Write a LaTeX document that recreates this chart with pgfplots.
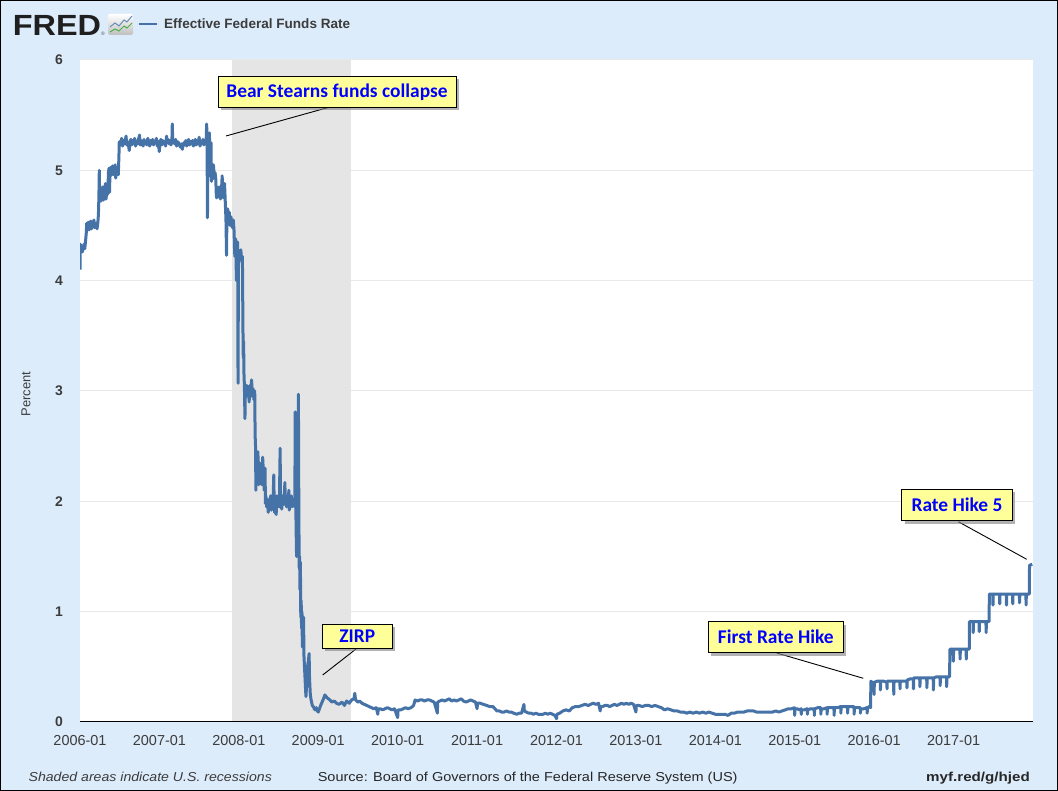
\documentclass[border=0pt]{standalone}
\usepackage{pgfplots}
\usepackage{pgfplotstable}
\pgfplotsset{compat=1.18}
\usepackage{fontspec}
\setmainfont{Liberation Sans}
\newfontfamily\calibri{Carlito}
\usetikzlibrary{shadows}
\definecolor{bgblue}{RGB}{221,236,251}
\definecolor{fredblue}{RGB}{69,114,167}
\definecolor{gridgray}{RGB}{232,232,232}
\definecolor{shadegray}{RGB}{229,229,229}
\definecolor{txtgray}{RGB}{60,60,60}
\definecolor{boxyellow}{RGB}{255,255,153}
\definecolor{annblue}{RGB}{0,0,255}
\definecolor{tickgray}{RGB}{200,208,216}

\pgfplotstableread{
x y
2006.000 4.10
2006.004 4.33
2006.012 4.28
2006.020 4.31
2006.030 4.26
2006.040 4.30
2006.050 4.33
2006.060 4.29
2006.070 4.36
2006.080 4.44
2006.084 4.52
2006.095 4.48
2006.105 4.53
2006.115 4.46
2006.125 4.50
2006.135 4.54
2006.145 4.47
2006.155 4.51
2006.165 4.49
2006.175 4.55
2006.185 4.48
2006.195 4.50
2006.205 4.52
2006.215 4.47
2006.225 4.53
2006.232 4.60
2006.238 4.76
2006.243 5.00
2006.248 4.74
2006.256 4.80
2006.264 4.72
2006.272 4.78
2006.280 4.75
2006.288 4.85
2006.296 4.73
2006.304 4.79
2006.312 4.76
2006.320 4.88
2006.328 4.74
2006.336 4.80
2006.344 4.78
2006.352 4.83
2006.358 4.98
2006.366 5.02
2006.372 4.80
2006.378 5.01
2006.386 4.95
2006.394 5.03
2006.402 4.97
2006.410 5.04
2006.418 4.96
2006.426 5.02
2006.434 4.99
2006.442 5.05
2006.450 4.93
2006.458 5.01
2006.466 4.98
2006.474 5.03
2006.482 4.96
2006.490 5.12
2006.494 5.25
2006.500 5.26
2006.512 5.23
2006.524 5.29
2006.536 5.22
2006.548 5.27
2006.560 5.24
2006.572 5.28
2006.580 5.31
2006.588 5.23
2006.600 5.26
2006.612 5.22
2006.620 5.18
2006.628 5.25
2006.640 5.28
2006.652 5.23
2006.664 5.27
2006.676 5.24
2006.688 5.29
2006.700 5.22
2006.712 5.26
2006.724 5.24
2006.736 5.28
2006.750 5.32
2006.758 5.23
2006.770 5.27
2006.782 5.25
2006.794 5.22
2006.806 5.28
2006.818 5.24
2006.830 5.26
2006.842 5.23
2006.854 5.29
2006.866 5.25
2006.878 5.22
2006.890 5.27
2006.902 5.24
2006.914 5.28
2006.926 5.23
2006.938 5.26
2006.950 5.25
2006.962 5.29
2006.974 5.22
2006.986 5.26
2006.998 5.17
2007.006 5.25
2007.018 5.28
2007.030 5.23
2007.042 5.27
2007.054 5.24
2007.066 5.26
2007.078 5.22
2007.090 5.31
2007.098 5.25
2007.110 5.28
2007.122 5.24
2007.134 5.27
2007.146 5.23
2007.158 5.29
2007.162 5.42
2007.168 5.25
2007.180 5.27
2007.192 5.24
2007.204 5.28
2007.216 5.22
2007.228 5.26
2007.240 5.25
2007.252 5.23
2007.264 5.21
2007.276 5.24
2007.288 5.19
2007.296 5.22
2007.308 5.25
2007.320 5.23
2007.332 5.27
2007.344 5.22
2007.356 5.25
2007.368 5.28
2007.380 5.23
2007.392 5.26
2007.404 5.24
2007.416 5.27
2007.428 5.22
2007.440 5.25
2007.452 5.28
2007.464 5.23
2007.476 5.26
2007.488 5.24
2007.500 5.30
2007.512 5.22
2007.524 5.26
2007.536 5.24
2007.548 5.28
2007.560 5.23
2007.572 5.27
2007.584 5.25
2007.590 5.30
2007.595 5.42
2007.600 5.26
2007.605 4.57
2007.610 5.10
2007.615 4.95
2007.620 5.20
2007.625 5.00
2007.630 5.34
2007.635 4.95
2007.640 5.02
2007.650 5.25
2007.655 4.90
2007.660 5.00
2007.670 4.92
2007.680 5.05
2007.690 4.95
2007.700 4.98
2007.710 4.92
2007.715 4.80
2007.720 4.75
2007.730 4.82
2007.740 4.76
2007.750 4.85
2007.760 4.78
2007.770 4.74
2007.780 4.80
2007.790 4.95
2007.800 4.78
2007.810 4.75
2007.820 4.88
2007.830 4.70
2007.838 4.55
2007.845 4.23
2007.850 4.60
2007.860 4.65
2007.870 4.55
2007.880 4.62
2007.890 4.50
2007.900 4.58
2007.910 4.52
2007.920 4.48
2007.930 4.55
2007.940 4.45
2007.945 4.30
2007.950 4.22
2007.960 4.38
2007.970 4.00
2007.975 4.30
2007.985 4.35
2007.990 3.07
2007.995 4.15
2008.005 4.25
2008.015 4.20
2008.025 4.28
2008.035 4.18
2008.045 4.22
2008.052 3.55
2008.056 3.30
2008.060 3.45
2008.065 3.15
2008.070 3.05
2008.077 2.75
2008.082 3.00
2008.090 2.95
2008.100 3.05
2008.110 2.98
2008.120 3.02
2008.130 2.90
2008.140 3.05
2008.150 2.95
2008.160 3.10
2008.170 2.98
2008.180 3.02
2008.190 2.92
2008.200 3.00
2008.205 2.60
2008.210 2.50
2008.215 2.10
2008.220 2.40
2008.230 2.20
2008.240 2.45
2008.250 2.15
2008.260 2.35
2008.270 2.25
2008.280 2.30
2008.290 2.15
2008.300 2.40
2008.310 2.25
2008.320 2.10
2008.330 2.30
2008.335 1.98
2008.340 2.05
2008.350 1.95
2008.360 2.02
2008.370 1.90
2008.380 2.00
2008.390 1.95
2008.400 2.05
2008.410 1.92
2008.420 2.00
2008.430 1.98
2008.440 2.24
2008.445 1.98
2008.450 1.90
2008.460 2.02
2008.470 1.88
2008.480 2.05
2008.490 1.95
2008.500 2.00
2008.510 1.95
2008.520 2.48
2008.525 1.98
2008.530 2.02
2008.540 1.93
2008.550 2.05
2008.560 1.97
2008.570 2.02
2008.580 2.17
2008.585 1.97
2008.590 2.03
2008.600 1.95
2008.610 2.05
2008.620 1.98
2008.630 2.10
2008.635 1.92
2008.640 2.00
2008.650 1.96
2008.660 2.05
2008.670 1.95
2008.680 2.02
2008.690 1.98
2008.700 2.00
2008.705 1.95
2008.710 2.81
2008.715 2.50
2008.720 1.80
2008.727 1.50
2008.735 2.00
2008.745 1.60
2008.750 2.97
2008.755 2.00
2008.760 1.40
2008.765 1.50
2008.770 1.20
2008.775 1.45
2008.780 0.95
2008.785 1.10
2008.790 0.85
2008.795 1.00
2008.800 0.68
2008.805 0.90
2008.810 0.75
2008.815 0.95
2008.820 0.60
2008.830 0.45
2008.840 0.30
2008.845 0.23
2008.855 0.35
2008.865 0.50
2008.875 0.55
2008.885 0.62
2008.890 0.40
2008.900 0.25
2008.910 0.20
2008.925 0.15
2008.937 0.14
2008.950 0.12
2008.960 0.11
2008.975 0.13
2008.990 0.10
2009.000 0.09
2009.030 0.15
2009.060 0.20
2009.084 0.245
2009.110 0.22
2009.147 0.20
2009.170 0.18
2009.200 0.19
2009.230 0.17
2009.260 0.16
2009.300 0.18
2009.330 0.15
2009.357 0.19
2009.390 0.17
2009.420 0.20
2009.450 0.21
2009.460 0.26
2009.470 0.20
2009.500 0.18
2009.520 0.19
2009.550 0.17
2009.580 0.16
2009.610 0.15
2009.640 0.14
2009.670 0.13
2009.700 0.12
2009.730 0.13
2009.750 0.07
2009.755 0.12
2009.780 0.12
2009.810 0.11
2009.840 0.12
2009.870 0.13
2009.900 0.12
2009.930 0.11
2009.960 0.12
2010.000 0.04
2010.005 0.11
2010.040 0.11
2010.070 0.12
2010.100 0.13
2010.130 0.12
2010.170 0.13
2010.200 0.15
2010.220 0.20
2010.250 0.19
2010.280 0.20
2010.310 0.20
2010.340 0.19
2010.370 0.20
2010.400 0.20
2010.430 0.19
2010.460 0.18
2010.500 0.08
2010.503 0.18
2010.530 0.19
2010.560 0.20
2010.590 0.19
2010.620 0.20
2010.650 0.21
2010.680 0.19
2010.710 0.20
2010.740 0.19
2010.770 0.20
2010.800 0.21
2010.830 0.19
2010.860 0.18
2010.890 0.19
2010.920 0.20
2010.950 0.19
2010.980 0.18
2011.000 0.12
2011.005 0.17
2011.040 0.17
2011.080 0.16
2011.120 0.15
2011.160 0.14
2011.200 0.14
2011.250 0.10
2011.280 0.10
2011.310 0.09
2011.340 0.09
2011.370 0.10
2011.400 0.09
2011.430 0.09
2011.460 0.08
2011.500 0.07
2011.530 0.08
2011.560 0.08
2011.590 0.16
2011.595 0.10
2011.620 0.09
2011.650 0.08
2011.680 0.08
2011.710 0.07
2011.740 0.08
2011.770 0.07
2011.800 0.07
2011.830 0.07
2011.860 0.08
2011.890 0.07
2011.920 0.08
2011.950 0.07
2011.980 0.06
2012.000 0.03
2012.005 0.07
2012.040 0.08
2012.080 0.10
2012.120 0.11
2012.160 0.10
2012.200 0.13
2012.240 0.14
2012.280 0.14
2012.320 0.15
2012.360 0.16
2012.400 0.15
2012.430 0.16
2012.460 0.17
2012.500 0.16
2012.530 0.17
2012.550 0.10
2012.555 0.14
2012.580 0.14
2012.610 0.15
2012.640 0.15
2012.670 0.14
2012.700 0.15
2012.730 0.16
2012.760 0.15
2012.790 0.16
2012.820 0.17
2012.850 0.16
2012.880 0.17
2012.910 0.16
2012.940 0.17
2012.970 0.16
2013.000 0.09
2013.005 0.15
2013.040 0.15
2013.080 0.14
2013.120 0.15
2013.160 0.15
2013.200 0.14
2013.240 0.15
2013.280 0.14
2013.320 0.13
2013.360 0.11
2013.400 0.12
2013.440 0.11
2013.480 0.10
2013.520 0.10
2013.560 0.09
2013.600 0.09
2013.640 0.08
2013.680 0.09
2013.720 0.08
2013.760 0.09
2013.800 0.08
2013.840 0.09
2013.880 0.08
2013.920 0.09
2013.960 0.08
2014.000 0.07
2014.040 0.07
2014.080 0.07
2014.120 0.07
2014.160 0.06
2014.200 0.08
2014.240 0.08
2014.280 0.09
2014.320 0.09
2014.360 0.09
2014.400 0.10
2014.440 0.10
2014.480 0.10
2014.520 0.09
2014.560 0.09
2014.600 0.09
2014.640 0.09
2014.680 0.09
2014.720 0.09
2014.760 0.10
2014.800 0.09
2014.840 0.10
2014.880 0.11
2014.920 0.12
2014.960 0.12
2014.996 0.13
2014.999 0.06
2015.003 0.12
2015.030 0.12
2015.060 0.11
2015.079 0.12
2015.082 0.07
2015.085 0.11
2015.120 0.11
2015.156 0.12
2015.159 0.07
2015.162 0.11
2015.200 0.12
2015.244 0.12
2015.247 0.06
2015.250 0.12
2015.290 0.13
2015.326 0.13
2015.329 0.07
2015.332 0.12
2015.370 0.12
2015.405 0.13
2015.408 0.07
2015.411 0.13
2015.450 0.13
2015.493 0.13
2015.496 0.06
2015.499 0.13
2015.540 0.13
2015.578 0.14
2015.581 0.08
2015.584 0.14
2015.620 0.14
2015.663 0.14
2015.666 0.08
2015.669 0.14
2015.710 0.14
2015.745 0.14
2015.748 0.07
2015.751 0.13
2015.790 0.13
2015.824 0.13
2015.827 0.08
2015.830 0.12
2015.870 0.12
2015.909 0.13
2015.912 0.08
2015.915 0.13
2015.940 0.14
2015.955 0.13
2015.958 0.37
2015.970 0.36
2015.985 0.36
2015.996 0.36
2015.999 0.25
2016.002 0.36
2016.040 0.37
2016.076 0.37
2016.079 0.29
2016.082 0.37
2016.120 0.37
2016.159 0.36
2016.162 0.30
2016.165 0.37
2016.210 0.37
2016.244 0.37
2016.247 0.25
2016.250 0.37
2016.290 0.37
2016.323 0.37
2016.326 0.30
2016.329 0.37
2016.370 0.37
2016.410 0.37
2016.413 0.31
2016.416 0.38
2016.450 0.39
2016.492 0.39
2016.495 0.30
2016.498 0.40
2016.540 0.40
2016.573 0.40
2016.576 0.32
2016.579 0.40
2016.620 0.40
2016.661 0.40
2016.664 0.31
2016.667 0.40
2016.710 0.40
2016.743 0.40
2016.746 0.29
2016.749 0.40
2016.790 0.41
2016.828 0.41
2016.831 0.33
2016.834 0.41
2016.870 0.41
2016.910 0.41
2016.913 0.32
2016.916 0.41
2016.950 0.41
2016.953 0.66
2016.970 0.66
2016.994 0.66
2016.997 0.55
2017.000 0.66
2017.040 0.66
2017.079 0.66
2017.082 0.57
2017.085 0.66
2017.120 0.66
2017.157 0.66
2017.160 0.57
2017.163 0.66
2017.197 0.66
2017.200 0.91
2017.220 0.91
2017.244 0.91
2017.247 0.81
2017.250 0.91
2017.290 0.91
2017.320 0.91
2017.323 0.82
2017.326 0.91
2017.370 0.91
2017.407 0.91
2017.410 0.81
2017.413 0.91
2017.447 0.91
2017.450 1.16
2017.470 1.16
2017.493 1.16
2017.496 1.06
2017.499 1.16
2017.540 1.16
2017.578 1.16
2017.581 1.07
2017.584 1.16
2017.620 1.16
2017.663 1.16
2017.666 1.06
2017.669 1.16
2017.710 1.16
2017.742 1.16
2017.745 1.07
2017.748 1.16
2017.790 1.16
2017.828 1.16
2017.831 1.08
2017.834 1.16
2017.870 1.16
2017.910 1.16
2017.913 1.06
2017.916 1.16
2017.953 1.16
2017.956 1.42
2017.990 1.43
}\effr

\begin{document}
\begin{tikzpicture}[x=1bp,y=1bp]
\fill[bgblue] (0,0) rectangle (1058,791);
\begin{axis}[
  at={(80bp,69bp)}, anchor=south west,
  width=953bp, height=662bp, scale only axis,
  xmin=2006, xmax=2018, ymin=0, ymax=6,
  axis background/.style={fill=white},
  axis line style={draw=none},
  ymajorgrids, major grid style={draw=gridgray, line width=1bp},
  xtick={2006,2007,2008,2009,2010,2011,2012,2013,2014,2015,2016,2017},
  xticklabels={2006-01,2007-01,2008-01,2009-01,2010-01,2011-01,2012-01,2013-01,2014-01,2015-01,2016-01,2017-01},
  ytick={0,1,2,3,4,5,6},
  yticklabels={0,1,2,3,4,5,6},
  /pgf/number format/assume math mode=true,
  tick style={draw=none},
  xticklabel style={font=\fontsize{14.5}{16}\selectfont, text=txtgray, inner sep=0pt, yshift=-13bp},
  yticklabel style={font=\bfseries\fontsize{14}{16}\selectfont, text=txtgray, inner sep=0pt, xshift=-17bp},
  clip=true,
]
\fill[shadegray] (axis cs:2007.918,0) rectangle (axis cs:2009.414,6);
\addplot[color=fredblue, line width=3bp, line join=round, no marks] table[x=x,y=y] {\effr};
\draw[black, line width=2bp] (rel axis cs:0,0) -- (rel axis cs:1,0);
\pgfplotsinvokeforeach{2006,2007,2008,2009,2010,2011,2012,2013,2014,2015,2016,2017}{
  \draw[tickgray, line width=1bp] ([yshift=-1bp]axis cs:#1,0) -- ([yshift=-10bp]axis cs:#1,0);
}
\end{axis}

% y axis title
\node[rotate=90, font=\fontsize{13}{15}\selectfont, text=txtgray] at (26,397) {Percent};

% header
\node[anchor=base west, inner sep=0, font=\bfseries\fontsize{29.3}{30}\selectfont, text=black!88] at (12.7,755) {\scalebox{1.11}[1]{FRED}};
\node[inner sep=0, font=\fontsize{5}{5}\selectfont, text=black!70] at (103,757) {®};
\shade[top color=white, bottom color=black!25, rounded corners=1.5bp] (108,756) rectangle (133,777);
\draw[fredblue!80, line width=1bp] (110,764) -- (115,768) -- (119,765) -- (124,771) -- (127,769) -- (132,775);
\draw[green!55!black!70, line width=1bp] (110,759) -- (115,762) -- (119,760) -- (124,765) -- (127,763) -- (132,768);
\draw[fredblue, line width=2bp] (139.3,767) -- (156.7,767);
\node[anchor=base west, inner sep=0, font=\bfseries\fontsize{13.6}{15}\selectfont, text=txtgray] at (164,762.5) {Effective Federal Funds Rate};

% footer
\node[anchor=base west, inner sep=0, text=txtgray, font=\itshape\fontsize{13}{15}\selectfont] at (28.4,9) {\scalebox{1.09}[1]{Shaded areas indicate U.S. recessions}};
\node[anchor=base west, inner sep=0, text=black!85, font=\fontsize{13}{15}\selectfont] at (317.6,9) {\scalebox{1.12}[1]{Source: Board of Governors of the Federal Reserve System (US)}};
\node[anchor=base east, inner sep=0, text=black!85, font=\bfseries\fontsize{13}{15}\selectfont] at (1030,9) {\scalebox{1.17}[1]{myf.red/g/hjed}};

% annotations
\draw[black, line width=0.9bp] (226,655) -- (330,684);
\draw[black, line width=0.9bp] (322.7,116) -- (356,142);
\draw[black, line width=0.9bp] (776.7,138) -- (863.3,112.7);
\draw[black, line width=0.9bp] (958.3,269.3) -- (1026.7,231.7);
\tikzset{ann/.style={draw=black, line width=0.9bp, fill=boxyellow, drop shadow={shadow xshift=3bp, shadow yshift=-3bp, fill=black!50, opacity=0.6}, inner sep=0pt, text=annblue, font=\calibri\bfseries\fontsize{19.5}{21}\selectfont}}
\node[ann, minimum width=238bp, minimum height=31.5bp] at (337,699.25) {Bear Stearns funds collapse};
\node[ann, minimum width=70bp, minimum height=24bp] at (357.3,154.7) {ZIRP};
\node[ann, minimum width=135bp, minimum height=31bp] at (775.8,153.8) {First Rate Hike};
\node[ann, minimum width=110.6bp, minimum height=31.7bp] at (957,285.9) {Rate Hike 5};

\draw[black, line width=1bp] (0.5,0.5) rectangle (1057.5,790.5);
\pgfresetboundingbox
\path (0,0) rectangle (1058,791);
\end{tikzpicture}
\end{document}
